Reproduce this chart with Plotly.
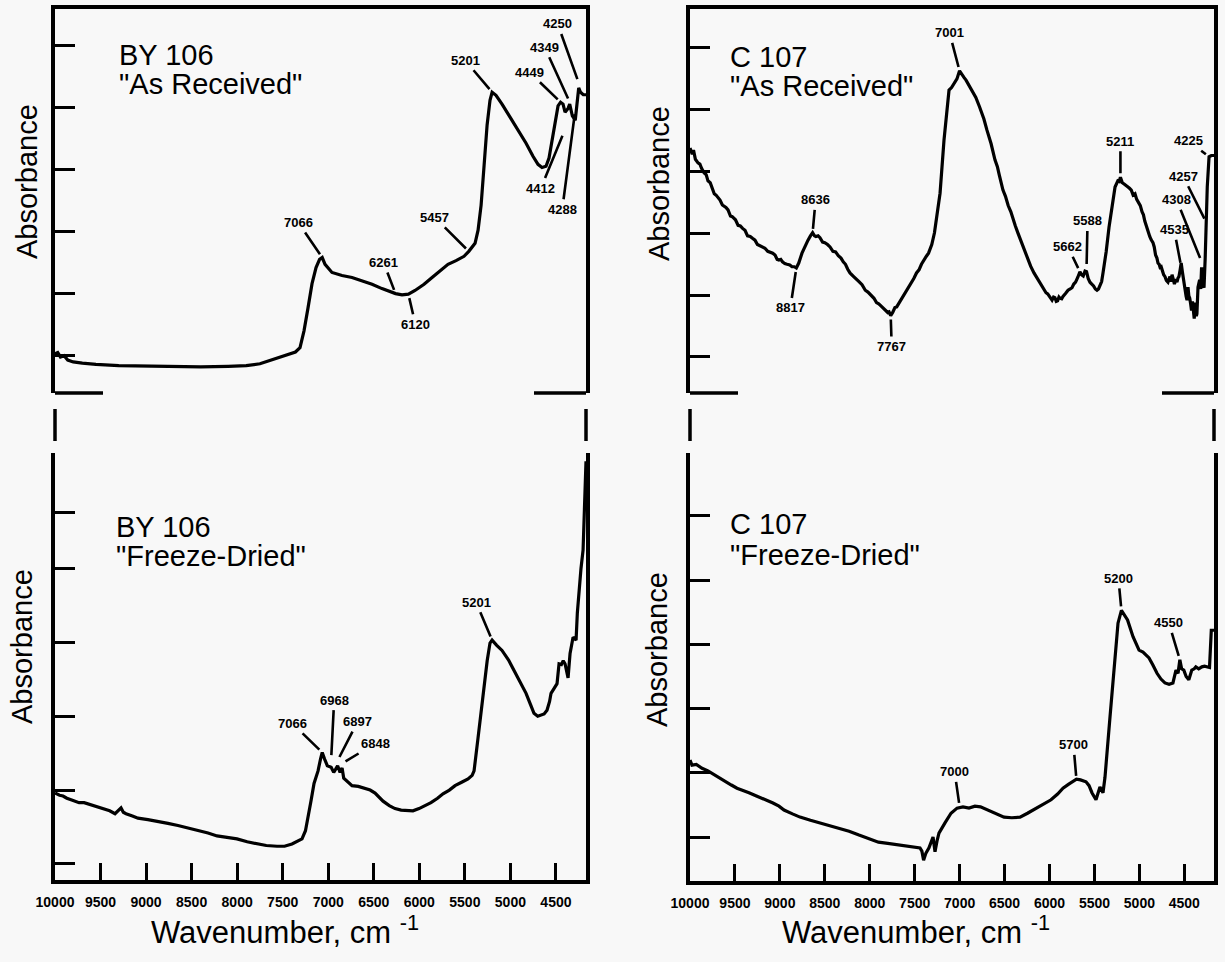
import plotly.graph_objects as go

W, H = 1225, 962
FONT = "Liberation Sans"
INK = "black"
BG = "#f8f8f8"

# ---------------- spectra (wavenumber in cm-1, absorbance in arbitrary units) ----------------
by106_received_wn = [10000, 9970, 9940, 9900, 9860, 9800, 9700, 9550, 9300, 9000, 8700, 8400, 8100,
                     7900, 7750, 7650, 7519, 7420, 7360, 7310, 7266, 7222, 7178, 7134, 7095, 7066,
                     7035, 6959, 6849, 6739, 6629, 6519, 6410, 6322, 6261, 6190, 6120, 6047, 5948,
                     5860, 5773, 5685, 5597, 5509, 5457, 5388, 5355, 5322, 5289, 5256, 5224, 5201,
                     5158, 5092, 5004, 4916, 4828, 4752, 4697, 4653, 4609, 4576, 4543, 4510, 4477,
                     4449, 4422, 4400, 4367, 4349, 4320, 4288, 4270, 4250, 4230, 4200, 4170]
by106_received_abs = [0.03, 0.05, -0.02, 0.00, -0.07, -0.10, -0.12, -0.14, -0.16, -0.17, -0.18, -0.18, -0.17,
                      -0.16, -0.13, -0.08, -0.01, 0.03, 0.06, 0.13, 0.40, 0.77, 1.16, 1.42, 1.55, 1.58,
                      1.47, 1.34, 1.29, 1.26, 1.21, 1.15, 1.08, 1.03, 1.00, 0.98, 0.99, 1.05, 1.15,
                      1.26, 1.37, 1.47, 1.53, 1.60, 1.68, 1.81, 2.02, 2.42, 3.06, 3.71, 4.11, 4.24,
                      4.19, 4.05, 3.84, 3.63, 3.42, 3.21, 3.08, 3.03, 3.05, 3.18, 3.47, 3.79, 4.02,
                      4.08, 4.05, 3.92, 3.98, 4.05, 3.86, 3.79, 4.05, 4.31, 4.24, 4.20, 4.20]

c107_received_wn = [10000, 9975, 9961, 9940, 9911, 9890, 9870, 9844, 9820, 9800, 9775, 9755, 9730, 9710,
                    9690, 9666, 9640, 9620, 9600, 9577, 9550, 9530, 9510, 9494, 9465, 9440, 9415, 9388,
                    9360, 9330, 9305, 9277, 9250, 9220, 9190, 9166, 9135, 9110, 9080, 9054, 9030, 9010,
                    8990, 8971, 8945, 8920, 8890, 8865, 8840, 8817, 8790, 8754, 8720, 8687, 8660, 8636,
                    8615, 8600, 8575, 8554, 8525, 8500, 8470, 8442, 8410, 8380, 8350, 8320, 8295, 8270,
                    8245, 8220, 8185, 8150, 8120, 8086, 8050, 8020, 7985, 7953, 7925, 7900, 7870, 7847,
                    7820, 7800, 7785, 7767, 7745, 7720, 7700, 7675, 7650, 7620, 7590, 7563, 7535, 7510,
                    7480, 7452, 7425, 7400, 7370, 7346, 7310, 7280, 7250, 7218, 7174, 7118, 7090, 7063,
                    7030, 7001, 6970, 6950, 6929, 6900, 6862, 6820, 6779, 6730, 6696, 6650, 6607, 6580,
                    6560, 6518, 6490, 6460, 6430, 6406, 6380, 6350, 6320, 6295, 6270, 6240, 6210, 6173,
                    6140, 6100, 6070, 6039, 6020, 6000, 5985, 5972, 5955, 5940, 5925, 5910, 5895, 5883,
                    5865, 5850, 5820, 5794, 5770, 5750, 5730, 5710, 5685, 5662, 5645, 5625, 5605, 5588,
                    5570, 5550, 5530, 5510, 5490, 5472, 5455, 5440, 5420, 5405, 5370, 5338, 5300, 5271,
                    5240, 5225, 5211, 5190, 5170, 5150, 5127, 5110, 5090, 5070, 5049, 5030, 5010, 4990,
                    4971, 4955, 4940, 4920, 4904, 4885, 4870, 4849, 4835, 4820, 4805, 4793, 4780, 4770,
                    4758, 4748, 4730, 4715, 4700, 4682, 4670, 4660, 4648, 4637, 4622, 4610, 4595, 4582,
                    4570, 4560, 4548, 4535, 4522, 4510, 4500, 4490, 4480, 4470, 4459, 4450, 4440, 4430,
                    4420, 4410, 4404, 4395, 4390, 4382, 4375, 4367, 4360, 4348, 4330, 4318, 4308, 4295,
                    4281, 4268, 4257, 4245, 4225, 4200, 4170]
c107_received_abs = [3.38, 3.28, 3.35, 3.20, 3.14, 3.12, 3.05, 2.98, 2.95, 2.85, 2.82, 2.75, 2.64, 2.62,
                     2.58, 2.54, 2.46, 2.44, 2.42, 2.38, 2.28, 2.27, 2.24, 2.22, 2.13, 2.12, 2.08, 2.05,
                     1.96, 1.95, 1.92, 1.89, 1.82, 1.80, 1.79, 1.76, 1.71, 1.70, 1.68, 1.65, 1.58, 1.57,
                     1.58, 1.54, 1.51, 1.50, 1.49, 1.46, 1.46, 1.44, 1.52, 1.68, 1.80, 1.89, 1.96, 2.01,
                     1.96, 1.95, 1.96, 1.93, 1.86, 1.85, 1.82, 1.78, 1.71, 1.70, 1.64, 1.60, 1.54, 1.50,
                     1.42, 1.36, 1.31, 1.27, 1.22, 1.17, 1.08, 1.05, 1.00, 0.95, 0.88, 0.86, 0.82, 0.79,
                     0.74, 0.72, 0.73, 0.67, 0.72, 0.80, 0.81, 0.87, 0.93, 1.00, 1.08, 1.13, 1.21, 1.27,
                     1.36, 1.41, 1.50, 1.55, 1.63, 1.68, 1.82, 2.01, 2.30, 2.65, 3.51, 4.32, 4.36, 4.43,
                     4.50, 4.63, 4.55, 4.52, 4.48, 4.41, 4.32, 4.20, 4.05, 3.85, 3.67, 3.45, 3.19, 3.08,
                     2.95, 2.70, 2.60, 2.45, 2.35, 2.22, 2.12, 2.00, 1.88, 1.78, 1.70, 1.58, 1.47, 1.36,
                     1.28, 1.18, 1.12, 1.04, 1.02, 0.98, 0.93, 0.92, 0.97, 0.96, 0.90, 0.91, 0.97, 0.95,
                     0.94, 0.98, 1.03, 1.08, 1.10, 1.12, 1.18, 1.21, 1.29, 1.38, 1.33, 1.31, 1.39, 1.38,
                     1.27, 1.21, 1.18, 1.15, 1.10, 1.08, 1.10, 1.15, 1.22, 1.36, 1.70, 2.10, 2.45, 2.75,
                     2.85, 2.84, 2.91, 2.82, 2.80, 2.77, 2.75, 2.73, 2.70, 2.62, 2.64, 2.55, 2.50, 2.45,
                     2.35, 2.30, 2.20, 2.10, 2.02, 1.95, 1.90, 1.85, 1.78, 1.65, 1.60, 1.52, 1.50, 1.45,
                     1.46, 1.41, 1.33, 1.30, 1.24, 1.21, 1.27, 1.30, 1.22, 1.33, 1.25, 1.18, 1.26, 1.21,
                     1.28, 1.30, 1.40, 1.52, 1.38, 1.25, 1.12, 1.05, 0.98, 0.92, 1.13, 0.99, 0.95, 0.86,
                     0.75, 0.90, 0.81, 0.68, 0.62, 0.80, 0.88, 0.66, 0.70, 1.13, 1.25, 1.10, 1.45, 1.20,
                     1.12, 1.60, 2.12, 2.75, 3.24, 3.26, 3.26]

by106_dried_wn = [10000, 9950, 9912, 9870, 9824, 9780, 9736, 9680, 9605, 9540, 9473, 9400, 9341, 9300,
                  9275, 9250, 9220, 9150, 9089, 8980, 8869, 8760, 8650, 8540, 8430, 8320, 8221, 8110,
                  8002, 7890, 7782, 7680, 7562, 7480, 7398, 7288, 7250, 7222, 7190, 7156, 7112, 7085,
                  7066, 7040, 7010, 6968, 6940, 6920, 6897, 6870, 6848, 6830, 6805, 6739, 6670, 6607,
                  6540, 6486, 6440, 6398, 6330, 6267, 6200, 6135, 6070, 6003, 5940, 5872, 5800, 5740,
                  5670, 5608, 5530, 5465, 5420, 5399, 5355, 5320, 5289, 5255, 5224, 5201, 5150, 5092,
                  5020, 4960, 4890, 4828, 4780, 4741, 4700, 4664, 4630, 4598, 4570, 4554, 4520, 4488,
                  4466, 4440, 4420, 4400, 4367, 4345, 4312, 4290, 4279, 4265, 4246, 4225, 4202, 4185, 4170]
by106_dried_abs = [0.96, 0.93, 0.92, 0.89, 0.87, 0.85, 0.83, 0.83, 0.80, 0.77, 0.75, 0.72, 0.68, 0.73,
                   0.76, 0.70, 0.68, 0.65, 0.62, 0.60, 0.58, 0.55, 0.52, 0.49, 0.45, 0.42, 0.38, 0.36,
                   0.34, 0.30, 0.27, 0.25, 0.24, 0.24, 0.27, 0.34, 0.45, 0.62, 0.85, 1.09, 1.26, 1.42,
                   1.51, 1.42, 1.33, 1.31, 1.24, 1.28, 1.33, 1.24, 1.30, 1.16, 1.13, 1.06, 1.05, 1.03,
                   1.00, 0.96, 0.90, 0.85, 0.79, 0.75, 0.73, 0.72, 0.72, 0.75, 0.79, 0.83, 0.89, 0.95,
                   1.00, 1.06, 1.11, 1.15, 1.20, 1.26, 1.71, 2.10, 2.44, 2.75, 2.99, 3.03, 2.96, 2.89,
                   2.76, 2.62, 2.46, 2.31, 2.16, 2.04, 2.00, 2.01, 2.03, 2.08, 2.20, 2.31, 2.38, 2.44,
                   2.71, 2.70, 2.75, 2.71, 2.52, 2.85, 3.07, 3.05, 3.03, 3.40, 3.74, 4.00, 4.25, 4.90, 5.45]

c107_dried_wn = [10000, 9978, 9930, 9866, 9800, 9733, 9670, 9604, 9540, 9477, 9410, 9344, 9280, 9210,
                 9140, 9077, 9010, 8954, 8860, 8776, 8660, 8554, 8450, 8342, 8230, 8120, 8010, 7903,
                 7800, 7686, 7600, 7508, 7441, 7420, 7401, 7375, 7341, 7296, 7274, 7250, 7230, 7163,
                 7096, 7029, 7000, 6963, 6896, 6830, 6768, 6700, 6640, 6570, 6506, 6420, 6328, 6245,
                 6180, 6117, 6050, 5983, 5910, 5850, 5790, 5743, 5700, 5655, 5620, 5594, 5560, 5528,
                 5483, 5460, 5439, 5405, 5383, 5327, 5283, 5238, 5200, 5160, 5132, 5071, 5004, 4960,
                 4893, 4850, 4804, 4760, 4716, 4670, 4627, 4593, 4570, 4550, 4530, 4506, 4480, 4450,
                 4430, 4417, 4390, 4372, 4340, 4305, 4275, 4220, 4200, 4170]
c107_dried_abs = [1.20, 1.12, 1.13, 1.07, 1.03, 0.97, 0.92, 0.86, 0.81, 0.76, 0.73, 0.69, 0.65, 0.61,
                  0.57, 0.53, 0.48, 0.42, 0.36, 0.31, 0.26, 0.22, 0.18, 0.14, 0.09, 0.03, -0.02, -0.08,
                  -0.10, -0.12, -0.14, -0.16, -0.17, -0.22, -0.36, -0.25, -0.17, 0.00, -0.23, -0.05, 0.06, 0.22,
                  0.37, 0.45, 0.46, 0.47, 0.45, 0.48, 0.47, 0.43, 0.39, 0.34, 0.31, 0.30, 0.31, 0.37,
                  0.42, 0.47, 0.52, 0.58, 0.67, 0.76, 0.82, 0.86, 0.90, 0.89, 0.88, 0.86, 0.80, 0.69,
                  0.58, 0.70, 0.78, 0.69, 0.93, 1.87, 2.65, 3.33, 3.53, 3.45, 3.38, 3.12, 2.91, 2.88,
                  2.79, 2.68, 2.55, 2.46, 2.40, 2.38, 2.40, 2.60, 2.55, 2.76, 2.62, 2.60, 2.50, 2.45,
                  2.55, 2.60, 2.62, 2.65, 2.62, 2.65, 2.66, 2.64, 3.22, 3.22]

# ---------------- peak labels: (label, leader tip absorbance, text dx px, text dy px) ----------------
by106_received_peaks = [("7066", 1.58, -24, -35), ("6261", 1.00, -12, -31), ("6120", 0.99, 7, 30),
                        ("5457", 1.68, -34, -34), ("5201", 4.24, -27, -32), ("4449", 4.08, -31, -30),
                        ("4412", 3.60, -23, 56), ("4349", 4.08, -25, -55), ("4288", 3.95, -13, 99),
                        ("4250", 4.39, -21, -59)]
c107_received_peaks = [("7001", 4.63, -10, -38), ("8636", 2.01, 3, -33), ("8817", 1.44, -6, 40),
                       ("7767", 0.67, 1, 31), ("5662", 1.38, -12, -25), ("5588", 1.44, 1, -47),
                       ("5211", 2.91, 0, -36), ("4535", 1.46, -7, -37), ("4308", 1.54, -25, -62),
                       ("4257", 2.18, -23, -46), ("4225", 3.24, -21, -16)]
by106_dried_peaks = [("5201", 3.03, -16, -38), ("7066", 1.51, -30, -29), ("6968", 1.42, 3, -59),
                     ("6897", 1.40, 20, -39), ("6848", 1.36, 33, -20)]
c107_dried_peaks = [("5200", 3.53, -3, -32), ("4550", 2.76, -11, -37), ("5700", 0.89, -3, -35),
                    ("7000", 0.47, -5, -35)]

# ---------------- axes ----------------
x_ticks = [10000, 9500, 9000, 8500, 8000, 7500, 7000, 6500, 6000, 5500, 5000, 4500]
x_range = [10000, 4170]

panel_titles = [("BY 106", '"As Received"'), ("C 107", '"As Received"'),
                ("BY 106", '"Freeze-Dried"'), ("C 107", '"Freeze-Dried"')]
y_label = "Absorbance"
x_label = "Wavenumber, cm <sup>-1</sup>"


def fx(px):
    return px / W


def fy(py):
    return 1 - py / H


# panel frames in page pixels: (left, right, top, bottom)
frames = {
    "tl": (55, 586, 9, 393),
    "tr": (690, 1214, 9, 393),
    "bl": (55, 586, 453, 880),
    "br": (690, 1214, 453, 881),
}
y_ranges = {"tl": [-0.6, 5.58], "tr": [-0.583, 5.631], "bl": [-0.217, 5.563], "br": [-0.685, 5.981]}
y_ticks = {"tl": [0, 1, 2, 3, 4, 5], "tr": [0, 1, 2, 3, 4, 5],
           "bl": [0, 1, 2, 3, 4, 4.76], "br": [0, 1, 2, 3, 4, 5]}
# text placement (page pixels): panel name x, line centres, axis-title centre
title_pos = {"tl": (117, 55, 84), "tr": (728, 57, 86), "bl": (114, 527, 556), "br": (728, 524, 555)}
ylabel_pos = {"tl": (27, 182), "tr": (659, 184), "bl": (22, 647), "br": (657, 650)}

order = ["tl", "tr", "bl", "br"]
series = {
    "tl": (by106_received_wn, by106_received_abs, by106_received_peaks),
    "tr": (c107_received_wn, c107_received_abs, c107_received_peaks),
    "bl": (by106_dried_wn, by106_dried_abs, by106_dried_peaks),
    "br": (c107_dried_wn, c107_dried_abs, c107_dried_peaks),
}

fig = go.Figure()
layout = dict(width=W, height=H, autosize=False, margin=dict(l=0, r=0, t=0, b=0, pad=0),
              paper_bgcolor=BG, plot_bgcolor=BG, showlegend=False,
              font=dict(family=FONT, color=INK))
annotations = []
shapes = []

for i, key in enumerate(order, start=1):
    sfx = "" if i == 1 else str(i)
    left, right, top, bottom = frames[key]
    wn, ab, peaks = series[key]
    bottom_panel = key.startswith("b")

    fig.add_trace(go.Scatter(x=wn, y=ab, mode="lines", xaxis="x" + sfx, yaxis="y" + sfx,
                             line=dict(color=INK, width=3.2), hoverinfo="skip"))

    xa = dict(domain=[fx(left), fx(right)], range=x_range, anchor="y" + sfx, automargin=False,
              showgrid=False, zeroline=False, showline=True, linecolor=INK, linewidth=3.5)
    if bottom_panel:
        xa.update(side="bottom", ticks="inside", ticklen=17, tickwidth=3, tickcolor=INK,
                  tickvals=x_ticks, ticktext=[str(t) for t in x_ticks], ticklabelstandoff=6,
                  tickfont=dict(family=FONT, size=14, color=INK, weight="bold"))
    else:
        xa.update(side="top", ticks="", showticklabels=False)
    ya = dict(domain=[fy(bottom), fy(top)], range=y_ranges[key], anchor="x" + sfx, automargin=False,
              showgrid=False, zeroline=False, showline=True, mirror=True, linecolor=INK,
              linewidth=3.5, ticks="inside", ticklen=20, tickwidth=3, tickcolor=INK,
              tickvals=y_ticks[key], showticklabels=False)
    layout["xaxis" + sfx] = xa
    layout["yaxis" + sfx] = ya

    # peak labels with leader lines
    for label, tip, dx, dy in peaks:
        annotations.append(dict(x=float(label), y=tip, xref="x" + sfx, yref="y" + sfx,
                                text=label, showarrow=True, arrowhead=0, arrowwidth=2.6,
                                arrowcolor=INK, ax=dx, ay=dy, standoff=4, borderpad=2,
                                font=dict(family=FONT, size=13, color=INK, weight="bold")))

    # sample name and treatment
    name, treat = panel_titles[i - 1]
    tx, y1, y2 = title_pos[key]
    for txt, ty in ((name, y1), (treat, y2)):
        annotations.append(dict(x=fx(tx), y=fy(ty), xref="paper", yref="paper", text=txt,
                                showarrow=False, xanchor="left", yanchor="middle",
                                font=dict(family=FONT, size=29, color=INK)))

    # vertical axis title
    lx, ly = ylabel_pos[key]
    annotations.append(dict(x=fx(lx), y=fy(ly), xref="paper", yref="paper", text=y_label,
                            textangle=-90, showarrow=False, xanchor="center", yanchor="middle",
                            font=dict(family=FONT, size=29, color=INK)))

    if bottom_panel:
        annotations.append(dict(x=fx((left + right) / 2 - 36), y=fy(930), xref="paper", yref="paper",
                                text=x_label, showarrow=False, xanchor="center", yanchor="middle",
                                font=dict(family=FONT, size=31, color=INK)))
    else:
        # short stubs closing the lower corners of the upper frame
        for x0, x1 in ((left, left + 48), (right - 52, right)):
            shapes.append(dict(type="line", xref="paper", yref="paper", x0=fx(x0), x1=fx(x1),
                               y0=fy(bottom), y1=fy(bottom), line=dict(color=INK, width=3.5)))
        # broken-axis dashes between the two frames
        for xv in (left, right):
            shapes.append(dict(type="line", xref="paper", yref="paper", x0=fx(xv), x1=fx(xv),
                               y0=fy(409), y1=fy(441), line=dict(color=INK, width=3.5)))

layout["annotations"] = annotations
layout["shapes"] = shapes
fig.update_layout(**layout)
fig.write_html("out.html", config={"displayModeBar": False})
